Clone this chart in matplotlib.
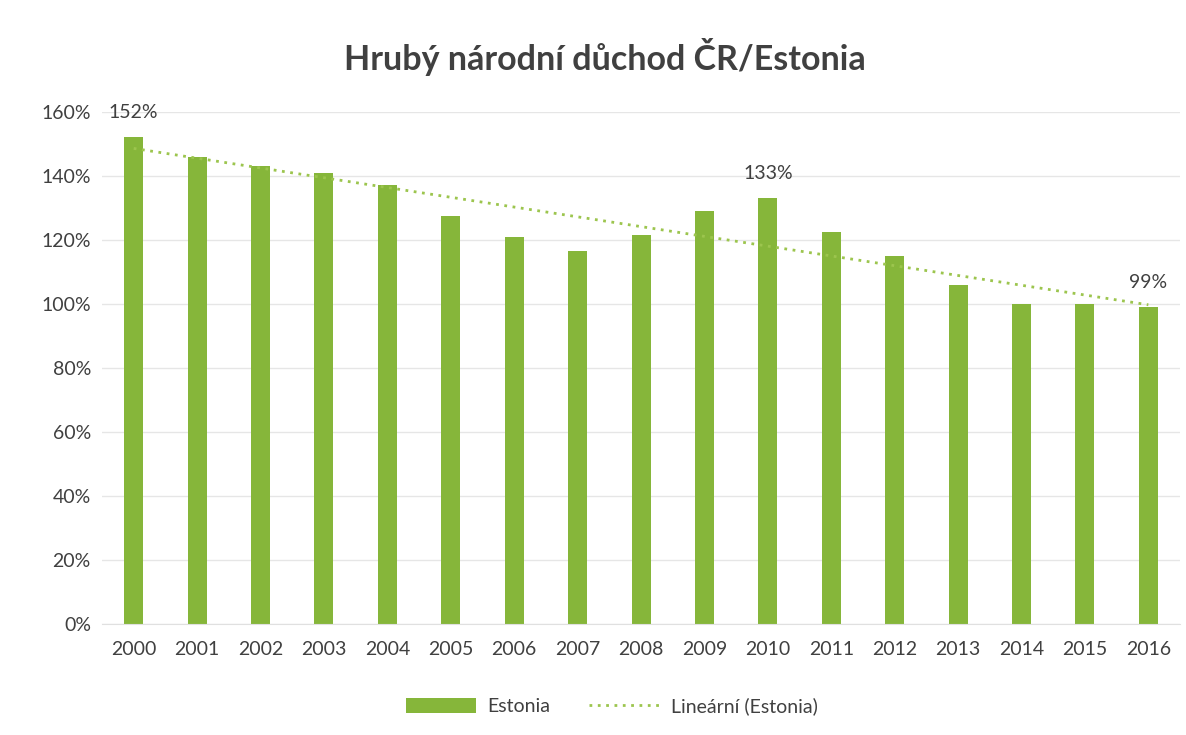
import numpy as np
import matplotlib.pyplot as plt

# Data
years = ["2000", "2001", "2002", "2003", "2004", "2005", "2006", "2007", "2008",
         "2009", "2010", "2011", "2012", "2013", "2014", "2015", "2016"]
estonia = [152, 146, 143, 141, 137, 127.5, 121, 116.5, 121.5,
           129, 133, 122.5, 115, 106, 100, 100, 99]
labelled = {"2000": "152%", "2010": "133%", "2016": "99%"}

plt.rcParams['font.family'] = ['Lato', 'DejaVu Sans']

fig = plt.figure(figsize=(11.86, 7.35), dpi=100, facecolor='white')
ax = fig.add_axes([0.086, 0.151, 0.909, 0.697])

x = np.arange(len(years))
bar_color = "#86b63a"
bars = ax.bar(x, estonia, width=0.3, color=bar_color, label="Estonia", zorder=2)

# Lineární trend (Excel style)
k, q = np.polyfit(x, estonia, 1)
trend, = ax.plot(x, k * x + q, linestyle=(0, (1, 2)), color="#9cc54e", linewidth=2,
                 label="Lineární (Estonia)", zorder=3)

# Popisky hodnot
for i, yr in enumerate(years):
    if yr in labelled:
        ax.text(i, estonia[i] + 5, labelled[yr], ha="center", va="bottom",
                fontsize=14, color="#404040")

ax.set_xlim(-0.5, len(years) - 0.5)
ax.set_ylim(0, 160)
ax.set_yticks(range(0, 161, 20))
ax.set_yticklabels([f"{v}%" for v in range(0, 161, 20)])
ax.set_xticks(x)
ax.set_xticklabels(years)
ax.tick_params(axis='both', length=0, labelsize=14, colors="#404040")
ax.tick_params(axis='x', pad=12)
ax.tick_params(axis='y', pad=8)
ax.grid(axis='y', color="#e6e6e6", linewidth=1, zorder=0)
for s in ["top", "right", "left"]:
    ax.spines[s].set_visible(False)
ax.spines["bottom"].set_color("#e0e0e0")

fig.text(0.51, 0.922, "Hrubý národní důchod ČR/Estonia", ha="center", va="center",
         fontsize=24.5, fontweight="bold", color="#404040")

fig.legend(handles=[bars, trend], loc="center", bbox_to_anchor=(0.516, 0.039), ncol=2,
           frameon=False, fontsize=14, handlelength=3.6, handleheight=0.8,
           handletextpad=0.6, columnspacing=2.0, labelcolor="#404040")

fig.savefig("out.png", dpi=100, facecolor='white')
